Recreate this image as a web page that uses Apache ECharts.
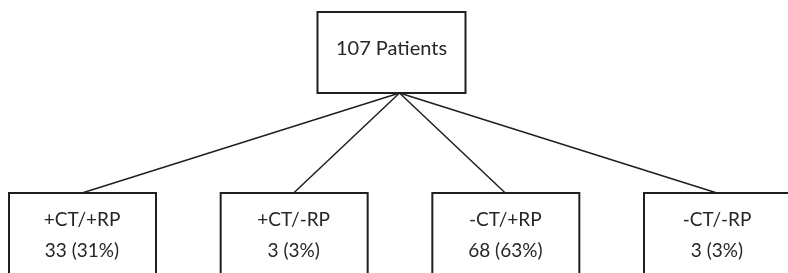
<!DOCTYPE html>
<html>
<head>
<meta charset="utf-8">
<style>
  html, body { margin: 0; padding: 0; background: #fff; }
  #chart { width: 788px; height: 273px; }
</style>
<script src="https://cdn.jsdelivr.net/npm/echarts@6/dist/echarts.min.js"></script>
</head>
<body>
<div id="chart"></div>
<script>
// 数据
const rootLabel = '107 Patients';
const groups = ['+CT/+RP', '+CT/-RP', '-CT/+RP', '-CT/-RP'];
const counts = [33, 3, 68, 3];
const percents = [31, 3, 63, 3];

// x = leaf slot (0..3), y = tree level (0 = bottom of root, 1 = top of leaves)
const rootSlot = 1.5;
const lineColor = '#1f1f1f';
const textColor = '#262626';
const font = 'Lato';

let chart = echarts.init(document.getElementById('chart'));

function rootBox(params, api) {
    let p = api.coord([api.value(0), api.value(1)]);
    let cx = p[0] - 8;
    return {
        type: 'group',
        children: [{
            type: 'rect',
            shape: { x: cx - 74, y: p[1] - 81, width: 148, height: 81 },
            style: { fill: '#fff', stroke: lineColor, lineWidth: 2 }
        }, {
            type: 'text',
            style: {
                text: rootLabel, x: cx, y: p[1] - 44,
                fill: textColor, fontSize: 20, fontFamily: font,
                align: 'center', verticalAlign: 'middle'
            }
        }]
    };
}

function leafBox(params, api) {
    let i = params.dataIndex;
    let p = api.coord([api.value(0), api.value(1)]);
    return {
        type: 'group',
        children: [{
            type: 'rect',
            shape: { x: p[0] - 73, y: p[1], width: 147, height: 120 },
            style: { fill: '#fff', stroke: lineColor, lineWidth: 2 }
        }, {
            type: 'text',
            style: {
                text: groups[i], x: p[0], y: p[1] + 27,
                fill: textColor, fontSize: 19, fontFamily: font,
                align: 'center', verticalAlign: 'middle'
            }
        }, {
            type: 'text',
            style: {
                text: counts[i] + ' (' + percents[i] + '%)', x: p[0], y: p[1] + 58,
                fill: textColor, fontSize: 19, fontFamily: font,
                align: 'center', verticalAlign: 'middle'
            }
        }]
    };
}

let options = {
    animation: false,
    grid: { left: 82, right: 71, top: 93, bottom: 80 },
    xAxis: { type: 'value', min: 0, max: 3, show: false },
    yAxis: { type: 'value', min: 0, max: 1, inverse: true, show: false },
    series: [{
        type: 'lines',
        coordinateSystem: 'cartesian2d',
        silent: true,
        clip: false,
        lineStyle: { color: lineColor, width: 1.5, opacity: 1 },
        data: groups.map(function (g, i) {
            return { coords: [[rootSlot, 0], [i, 1]] };
        })
    }, {
        type: 'custom',
        clip: false,
        silent: true,
        renderItem: rootBox,
        data: [[rootSlot, 0]]
    }, {
        type: 'custom',
        clip: false,
        silent: true,
        renderItem: leafBox,
        data: groups.map(function (g, i) { return [i, 1]; })
    }]
};

chart.setOption(options);
</script>
</body>
</html>
